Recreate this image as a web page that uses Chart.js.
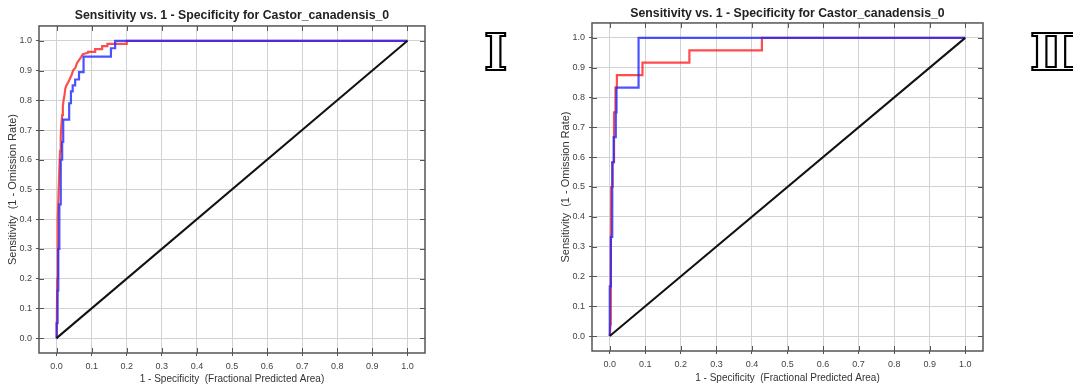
<!DOCTYPE html>
<html lang="en">
<head>
  <meta charset="UTF-8" />
  <title>Sensitivity vs. 1 - Specificity</title>
  <script src="https://cdn.jsdelivr.net/npm/chart.js"></script>
  <style>
    body { margin: 0; background: #fff; width: 1073px; height: 387px; overflow: hidden; position: relative; }
    canvas { position: absolute; top: 0; }
    .numeral {
      position: absolute; top: 28px; line-height: 1;
      font-family: "DejaVu Serif", "Liberation Serif", serif; font-size: 50px; font-weight: bold;
      color: #fff; -webkit-text-stroke: 2.2px #000;
    }
  </style>
</head>
<body>

  <canvas id="rocI" width="430" height="387" style="left: 0px;"></canvas>
  <canvas id="rocIII" width="435" height="387" style="left: 553px;"></canvas>
  <div class="numeral" style="left: 484px;">Ⅰ</div>
  <div class="numeral" style="left: 1030px;">Ⅲ</div>

  <script>
    // axis ticks (shared by both plots)
    const xTicks = [0, 0.1, 0.2, 0.3, 0.4, 0.5, 0.6, 0.7, 0.8, 0.9, 1.0];
    const yTicks = [0, 0.1, 0.2, 0.3, 0.4, 0.5, 0.6, 0.7, 0.8, 0.9, 1.0];
    const randomX = [0, 1];
    const randomY = [0, 1];

    // plot I
    const leftTestX = [0, 0, 0.003, 0.003, 0.005, 0.005, 0.008, 0.008, 0.012, 0.012, 0.016, 0.016, 0.019, 0.019, 0.036, 0.036, 0.041, 0.041, 0.046, 0.046, 0.053, 0.053, 0.064, 0.064, 0.077, 0.077, 0.155, 0.155, 0.167, 0.167, 1.0];
    const leftTestY = [0, 0.05, 0.05, 0.16, 0.16, 0.30, 0.30, 0.45, 0.45, 0.60, 0.60, 0.66, 0.66, 0.735, 0.735, 0.79, 0.79, 0.83, 0.83, 0.85, 0.85, 0.87, 0.87, 0.895, 0.895, 0.947, 0.947, 0.975, 0.975, 1.0, 1.0];
    const leftTrainX = [0, 0.001, 0.002, 0.003, 0.004, 0.006, 0.008, 0.010, 0.012, 0.014, 0.016, 0.018, 0.020, 0.023, 0.025, 0.028, 0.033, 0.037, 0.043, 0.047, 0.054, 0.058, 0.064, 0.070, 0.075, 0.090, 0.090, 0.110, 0.110, 0.130, 0.130, 0.145, 0.145, 0.200, 0.200, 1.0];
    const leftTrainY = [0, 0.08, 0.2, 0.3, 0.4, 0.5, 0.57, 0.63, 0.68, 0.72, 0.75, 0.78, 0.80, 0.82, 0.84, 0.85, 0.86, 0.87, 0.885, 0.90, 0.91, 0.925, 0.935, 0.945, 0.955, 0.96, 0.963, 0.963, 0.972, 0.972, 0.982, 0.982, 0.99, 0.99, 1.0, 1.0];

    // plot III
    const rightTestX = [0, 0, 0.003, 0.003, 0.007, 0.007, 0.011, 0.011, 0.017, 0.017, 0.019, 0.019, 0.081, 0.081, 1.0];
    const rightTestY = [0, 0.167, 0.167, 0.333, 0.333, 0.583, 0.583, 0.667, 0.667, 0.75, 0.75, 0.833, 0.833, 1.0, 1.0];
    const rightTrainX = [0, 0.002, 0.003, 0.004, 0.008, 0.008, 0.012, 0.012, 0.016, 0.016, 0.020, 0.020, 0.092, 0.092, 0.224, 0.224, 0.428, 0.428, 1.0];
    const rightTrainY = [0, 0.04, 0.25, 0.5, 0.5, 0.583, 0.583, 0.75, 0.75, 0.833, 0.833, 0.875, 0.875, 0.917, 0.917, 0.958, 0.958, 1.0, 1.0];

    const chartTitle = "Sensitivity vs. 1 - Specificity for Castor_canadensis_0";
    const xTitle = "1 - Specificity  (Fractional Predicted Area)";
    const yTitle = "Sensitivity  (1 - Omission Rate)";
    const family = "'Liberation Sans', Arial, sans-serif";

    const toPoints = (xs, ys) => xs.map((x, i) => ({ x, y: ys[i] }));

    // frame + inward tick marks on all four sides
    const frameTicks = {
      id: "frameTicks",
      afterDraw(chart) {
        const { ctx, chartArea: a, scales: { x, y } } = chart;
        ctx.save();
        ctx.strokeStyle = "#555";
        ctx.lineWidth = 1;
        ctx.beginPath();
        x.ticks.forEach(t => {
          const px = Math.round(x.getPixelForValue(t.value)) + 0.5;
          ctx.moveTo(px, a.top); ctx.lineTo(px, a.top + 5);
          ctx.moveTo(px, a.bottom); ctx.lineTo(px, a.bottom - 5);
        });
        y.ticks.forEach(t => {
          const py = Math.round(y.getPixelForValue(t.value)) + 0.5;
          ctx.moveTo(a.left, py); ctx.lineTo(a.left + 5, py);
          ctx.moveTo(a.right, py); ctx.lineTo(a.right - 5, py);
        });
        ctx.stroke();
        ctx.lineWidth = 1.5;
        ctx.strokeRect(a.left, a.top, a.right - a.left, a.bottom - a.top);
        ctx.restore();
      }
    };

    function makeChart(id, testX, testY, trainX, trainY, g) {
      return new Chart(document.getElementById(id), {
        type: "scatter",
        data: {
          datasets: [
            { data: toPoints(randomX, randomY), borderColor: "#111", borderWidth: 2 },
            { data: toPoints(testX, testY), borderColor: "rgba(30, 40, 255, 0.8)", borderWidth: 2.2 },
            { data: toPoints(trainX, trainY), borderColor: "rgba(255, 25, 25, 0.78)", borderWidth: 2.2 }
          ].map(d => Object.assign(d, { showLine: true, pointRadius: 0, tension: 0, fill: false }))
        },
        options: {
          responsive: false,
          animation: false,
          devicePixelRatio: 1,
          layout: { padding: { left: 0, right: 5, top: 0, bottom: 0 } },
          plugins: {
            legend: { display: false },
            tooltip: { enabled: false },
            title: {
              display: true, text: chartTitle, fullSize: false, color: "#222",
              font: { family, size: 12.3, weight: "bold" },
              padding: { top: g.titleTop, bottom: g.titleBottom }
            }
          },
          scales: {
            x: {
              type: "linear", min: -0.05, max: 1.05,
              afterBuildTicks: s => { s.ticks = xTicks.map(v => ({ value: v })); },
              afterFit: s => { s.height = g.xAxisH; },
              ticks: { callback: v => v.toFixed(1), color: "#444", font: { family, size: 9 }, padding: 5, maxRotation: 0, autoSkip: false },
              grid: { color: "#d2d2d2", tickLength: 3, tickColor: "#555" },
              border: { display: false },
              title: { display: true, text: xTitle, color: "#333", font: { family, size: 10 }, padding: { top: 0, bottom: g.xTitleBottom } }
            },
            y: {
              type: "linear", min: -0.05, max: 1.05,
              afterBuildTicks: s => { s.ticks = yTicks.map(v => ({ value: v })); },
              afterFit: s => { s.width = 39; },
              ticks: { callback: v => v.toFixed(1), color: "#444", font: { family, size: 9 }, padding: 4, autoSkip: false },
              grid: { color: "#d2d2d2", tickLength: 3, tickColor: "#555" },
              border: { display: false },
              title: { display: true, text: yTitle, color: "#333", font: { family, size: 11 }, padding: { top: 6.5, bottom: 0 } }
            }
          }
        },
        plugins: [frameTicks]
      });
    }

    makeChart("rocI", leftTestX, leftTestY, leftTrainX, leftTrainY,
      { titleTop: 8.6, titleBottom: 2.6, xAxisH: 34, xTitleBottom: 2 });
    makeChart("rocIII", rightTestX, rightTestY, rightTrainX, rightTrainY,
      { titleTop: 6.6, titleBottom: 1.6, xAxisH: 36, xTitleBottom: 3 });
  </script>

</body>
</html>
